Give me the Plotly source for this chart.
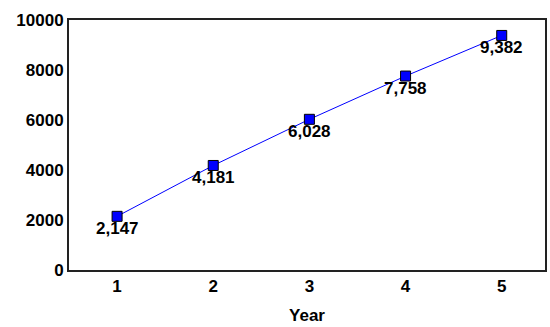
import plotly.graph_objects as go

years = [1, 2, 3, 4, 5]
values = [2147, 4181, 6028, 7758, 9382]
y_ticks = [0, 2000, 4000, 6000, 8000, 10000]

font_family = "Liberation Sans, Arial, sans-serif"
label_font = dict(family=font_family, size=17, color="#000000", weight="bold")

fig = go.Figure()
fig.add_trace(go.Scatter(
    x=years,
    y=values,
    mode="lines+markers",
    line=dict(color="#0000ff", width=1),
    marker=dict(symbol="square", size=10, color="#0000ff",
                line=dict(color="#000000", width=1)),
    showlegend=False,
))

# value labels sitting just under each marker
for xv, yv in zip(years, values):
    fig.add_annotation(
        x=xv, y=yv, text=f"{yv:,}",
        showarrow=False, yshift=-12,
        font=label_font,
    )

fig.update_layout(
    width=550,
    height=327,
    margin=dict(l=69, r=3, t=20, b=57),
    paper_bgcolor="white",
    plot_bgcolor="white",
    font=dict(family=font_family, color="#000000"),
    xaxis=dict(
        range=[0.5, 5.45],
        tickvals=years,
        ticktext=[str(y) for y in years],
        showgrid=False,
        zeroline=False,
        showline=True,
        linecolor="#222222",
        linewidth=2,
        mirror=True,
        ticks="",
        tickfont=dict(size=17, weight="bold"),
        title=dict(text="Year", font=dict(size=17, weight="bold"), standoff=14),
    ),
    yaxis=dict(
        range=[0, 10000],
        tickvals=y_ticks,
        ticktext=[str(t) for t in y_ticks],
        showgrid=False,
        zeroline=False,
        showline=True,
        linecolor="#222222",
        linewidth=2,
        mirror=True,
        ticks="",
        tickfont=dict(size=17, weight="bold"),
    ),
)

fig.write_html("out.html")
